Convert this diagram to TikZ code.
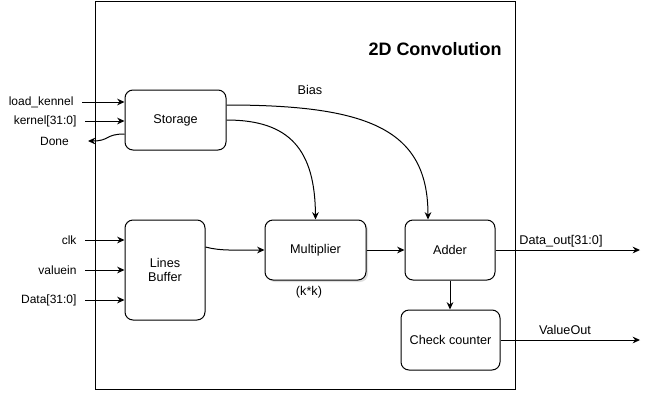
\documentclass[tikz,border=0pt]{standalone}
\usepackage{fontspec}
\setmainfont{Liberation Sans}
\usetikzlibrary{arrows.meta,shadows}

\newcommand*{\framel}{95}
\newcommand*{\framer}{515}
\newcommand*{\outx}{640}

\begin{document}
\begin{tikzpicture}
[
	x=0.75pt, y=-0.75pt,
	line width=0.75pt,
	>={Stealth[length=5.5pt,width=5pt]},
	block/.style={draw,fill=white,rounded corners=6pt,align=center,font=\fontsize{9.5}{11}\selectfont,minimum height=45pt},
	sig/.style={font=\fontsize{9}{11}\selectfont,anchor=east,inner xsep=6pt,inner ysep=1pt},
	outlbl/.style={font=\fontsize{9.5}{11}\selectfont,inner sep=1pt}
]

	\useasboundingbox (0,0) rectangle (645,393);

	% outer frame
	\draw (\framel,1) rectangle (\framer,389);
	\node[font=\fontsize{13.5}{16}\selectfont\bfseries] (title) at (435,49) {2D Convolution};

	% blocks
	\node[block,minimum width=75.75pt] (storage) at (175.5,120) {Storage};
	\node[block,minimum width=60pt,minimum height=75pt] (linebuf) at (165,270) {Lines\\Buffer};
	\node[block,minimum width=75.75pt,drop shadow={shadow xshift=1.5pt,shadow yshift=-1.5pt,opacity=0.25}] (mult) at (315.5,250) {Multiplier};
	\node[block,minimum width=67.5pt] (adder) at (450,250) {Adder};
	\node[block,minimum width=74.25pt] (checkcnt) at (450.5,340) {Check counter};

	% inputs
	\node[sig] (load) at (82,102) {load\_kennel};
	\node[sig] (kernel) at (85,121) {kernel[31:0]};
	\node[sig,inner xsep=14pt] (done) at (88,141) {Done};
	\node[sig] (clk) at (85,240) {clk};
	\node[sig] (valuein) at (85,270) {valuein};
	\node[sig] (data) at (85,300) {Data[31:0]};

	\draw[->] (load.east) -- (load.east -| storage.west);
	\draw[->] (kernel.east) -- (kernel.east -| storage.west);
	\draw[->] (storage.west |- 0,134) .. controls (105,134) and (110,141) .. (done.east);
	\draw[->] (clk.east) -- (clk.east -| linebuf.west);
	\draw[->] (valuein.east) -- (valuein.east -| linebuf.west);
	\draw[->] (data.east) -- (data.east -| linebuf.west);

	% inner paths
	\draw[->] (linebuf.east |- 0,247) .. controls (220,251) and (235,250) .. (mult.west);
	\draw[->] (mult.east) -- (adder.west);
	\draw[->] (storage.east) .. controls (290,120) and (315,150) .. (mult.north);
	\draw[->] (storage.east |- 0,105) .. controls (370,105) and (428,130) .. ([xshift=-16.5pt]adder.north);
	\draw[->] (adder.south) -- (adder.south |- checkcnt.north);

	\node[outlbl] (bias) at (310,90) {Bias};
	\node[outlbl] (kk) at (309,292) {(k*k)};

	% outputs
	\coordinate (dataEnd) at (\outx,250);
	\coordinate (valueEnd) at (\outx,340);
	\draw[->] (adder.east) -- (dataEnd);
	\draw[->] (checkcnt.east) -- (valueEnd);
	\node[outlbl] (dataout) at (561,241) {Data\_out[31:0]};
	\node[outlbl] (valueout) at (565,330) {ValueOut};

\end{tikzpicture}
\end{document}
